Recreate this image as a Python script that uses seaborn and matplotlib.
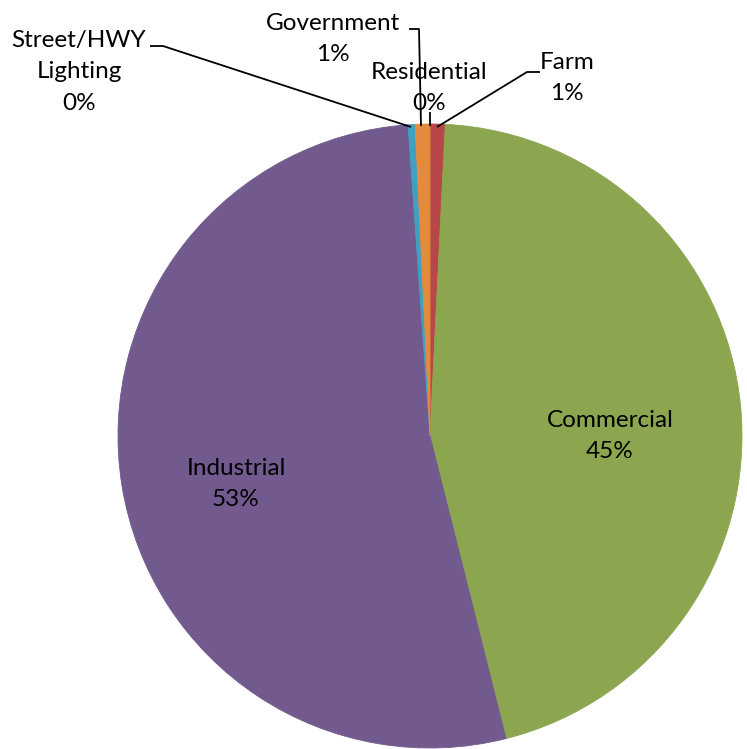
import matplotlib
matplotlib.use("Agg")
import matplotlib.pyplot as plt
import seaborn as sns

# Sector shares (percent), in drawing order clockwise from 12 o'clock
categories = ["Residential", "Farm", "Commercial", "Industrial",
              "Street/HWY\nLighting", "Government"]
shares = [0.02, 0.76, 45.3, 52.8, 0.36, 0.76]
pct_labels = ["0%", "1%", "45%", "53%", "0%", "1%"]
colors = ["#4A7EBB", "#B8474A", "#8BA64F", "#735A8E", "#3FA1BF", "#E48A3C"]

sns.set_theme(style="white")
plt.rcParams["font.family"] = ["Lato", "DejaVu Sans"]

W, H = 747, 749
CX, CY, R = 430, 436, 312

fig = plt.figure(figsize=(W / 100, H / 100), dpi=100)
ax = fig.add_axes([0, 0, 1, 1])

ax.pie(shares, colors=colors, startangle=90, counterclock=False,
       radius=1.0, center=(0, 0),
       wedgeprops=dict(linewidth=0.6))
for w, c in zip(ax.patches, colors):
    w.set_edgecolor(c)

ax.set_xlim((0 - CX) / R, (W - CX) / R)
ax.set_ylim((CY - H) / R, (CY - 0) / R)
ax.set_aspect("equal")
ax.axis("off")


def P(px, py):
    return ((px - CX) / R, (CY - py) / R)


fs = 17.5
lab = dict(ha="center", va="center", fontsize=fs, color="black", linespacing=1.62)

# Labels inside the large slices
ax.text(*P(610, 436), f"{categories[2]}\n{pct_labels[2]}", **lab)
ax.text(*P(236, 484), f"{categories[3]}\n{pct_labels[3]}", **lab)

# Outside labels for the small slices
ax.text(*P(79, 72), f"{categories[4]}\n{pct_labels[4]}", **lab)
ax.text(*P(333, 39), f"{categories[5]}\n{pct_labels[5]}", **lab)
ax.text(*P(429, 88), f"{categories[0]}\n{pct_labels[0]}", **lab)
ax.text(*P(567, 78), f"{categories[1]}\n{pct_labels[1]}", **lab)

# Leader lines
leaders = [
    [(150, 46), (163, 46), (411, 127)],
    [(409, 29), (419, 29), (421, 126)],
    [(430, 112), (430, 126)],
    [(540, 72), (527, 72), (437, 127)],
]
for pts in leaders:
    xs, ys = zip(*[P(*p) for p in pts])
    ax.plot(xs, ys, color="black", lw=1.3, solid_capstyle="butt")

fig.savefig("out.png", dpi=100, facecolor="white")
